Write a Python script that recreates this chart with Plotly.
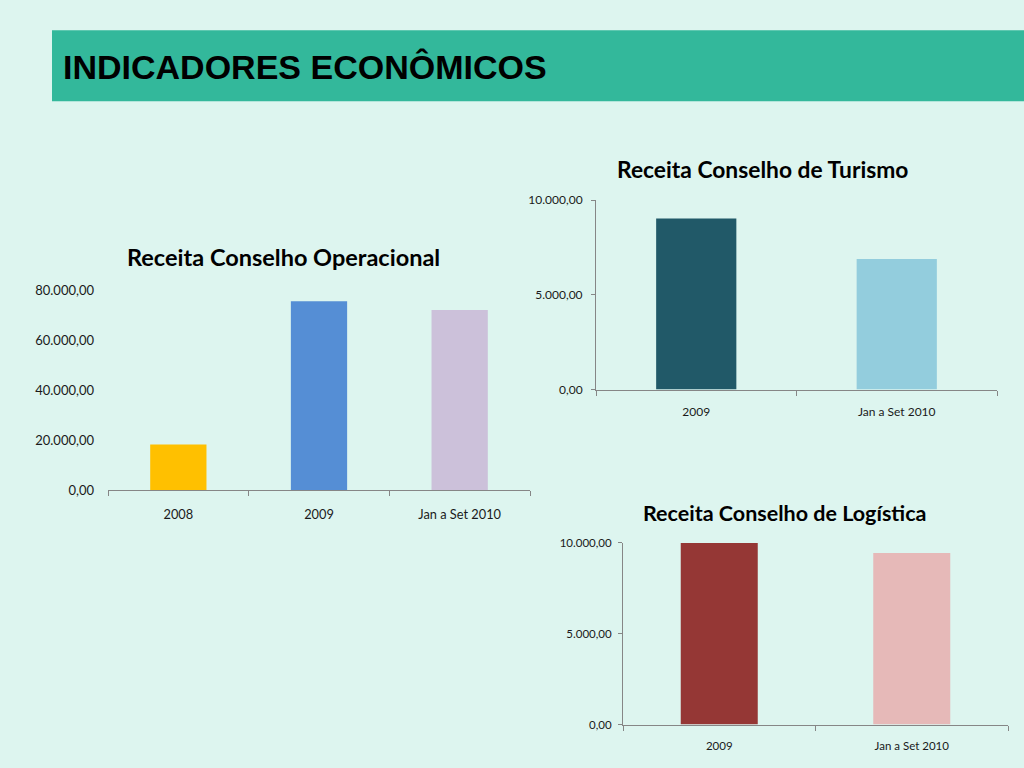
import plotly.graph_objects as go

W, H = 1024, 768

# Data
oper_cats = ["2008", "2009", "Jan a Set 2010"]
oper_vals = [18300, 75600, 72100]
oper_colors = ["#FFC000", "#558ED5", "#CCC1DA"]

tur_cats = ["2009", "Jan a Set 2010"]
tur_vals = [9030, 6900]
tur_colors = ["#215968", "#93CDDD"]

log_cats = ["2009", "Jan a Set 2010"]
log_vals = [10000, 9450]
log_colors = ["#953735", "#E6B9B8"]

BG = "#DDF5EF"
HEADER = "#33B89B"
AXIS = "#868686"
FONT = "Lato"

# screen-to-page compensation (measured from the rendering pipeline)
Y_OFF, Y_SCALE = 7.8, 0.979

def px_x(v):
    return v / W

def px_y(v):
    return 1 - ((v - Y_OFF) / Y_SCALE) / H

fig = go.Figure()
fig.add_trace(go.Bar(x=oper_cats, y=oper_vals, marker=dict(color=oper_colors, line=dict(width=0)),
                     xaxis="x", yaxis="y", hoverinfo="x+y"))
fig.add_trace(go.Bar(x=tur_cats, y=tur_vals, marker=dict(color=tur_colors, line=dict(width=0)),
                     xaxis="x2", yaxis="y2", hoverinfo="x+y"))
fig.add_trace(go.Bar(x=log_cats, y=log_vals, marker=dict(color=log_colors, line=dict(width=0)),
                     xaxis="x3", yaxis="y3", hoverinfo="x+y"))

def tf(size):
    return dict(family=FONT, size=size, color="#1a1a1a")

def xax(domain, anchor, size, standoff):
    return dict(domain=domain, anchor=anchor, type="category", showgrid=False,
                showline=True, linecolor=AXIS, linewidth=1, ticks="outside",
                tickson="boundaries", ticklen=5, tickcolor=AXIS, tickfont=tf(size),
                ticklabelstandoff=standoff, zeroline=False, fixedrange=True)

def yax(domain, anchor, rng, dtick, line, size, standoff):
    return dict(domain=domain, anchor=anchor, range=rng, dtick=dtick, tick0=0,
                showgrid=False, zeroline=False, showline=line, linecolor=AXIS, linewidth=1,
                ticks="outside" if line else "", ticklen=4, tickcolor=AXIS,
                tickformat=",.2f", tickfont=tf(size),
                ticklabelstandoff=standoff, fixedrange=True)

fig.update_layout(
    width=W, height=H,
    margin=dict(l=0, r=0, t=0, b=0),
    paper_bgcolor=BG, plot_bgcolor="rgba(0,0,0,0)",
    separators=",.",
    showlegend=False,
    bargap=0.6,
    font=dict(family=FONT),
    xaxis=xax([px_x(108), px_x(530)], "y", 12.8, 12),
    yaxis=yax([px_y(490), px_y(290)], "x", [0, 80000], 20000, False, 13, 13),
    xaxis2=xax([px_x(596), px_x(997)], "y2", 12, 11),
    yaxis2=yax([px_y(389.3), px_y(200)], "x2", [0, 10000], 5000, True, 12, 6),
    xaxis3=xax([px_x(623), px_x(1008)], "y3", 11.5, 11),
    yaxis3=yax([px_y(724.3), px_y(542.7)], "x3", [0, 10000], 5000, True, 11.5, 4),
    shapes=[dict(type="rect", xref="paper", yref="paper",
                 x0=px_x(52), x1=1, y0=px_y(101), y1=px_y(30),
                 fillcolor=HEADER, line=dict(width=0), layer="below")],
    annotations=[
        dict(text="<b>INDICADORES ECONÔMICOS</b>", xref="paper", yref="paper",
             x=px_x(61), y=px_y(67), xanchor="left", yanchor="middle", showarrow=False,
             font=dict(family="Liberation Sans", size=34, color="#000000")),
        dict(text="<b>Receita Conselho Operacional</b>", xref="paper", yref="paper",
             x=px_x(283.5), y=px_y(257), xanchor="center", yanchor="middle", showarrow=False,
             font=dict(family=FONT, size=23.5, color="#000000")),
        dict(text="<b>Receita Conselho de Turismo</b>", xref="paper", yref="paper",
             x=px_x(762), y=px_y(169), xanchor="center", yanchor="middle", showarrow=False,
             font=dict(family=FONT, size=22.8, color="#000000")),
        dict(text="<b>Receita Conselho de Logística</b>", xref="paper", yref="paper",
             x=px_x(784), y=px_y(513), xanchor="center", yanchor="middle", showarrow=False,
             font=dict(family=FONT, size=21.5, color="#000000")),
    ],
)

fig.write_html(
    "out.html",
    config={"displayModeBar": False},
    post_script="document.body.style.margin='0';document.body.style.padding='0';"
                "document.body.style.overflow='hidden';"
                "document.documentElement.style.overflow='hidden';",
)
